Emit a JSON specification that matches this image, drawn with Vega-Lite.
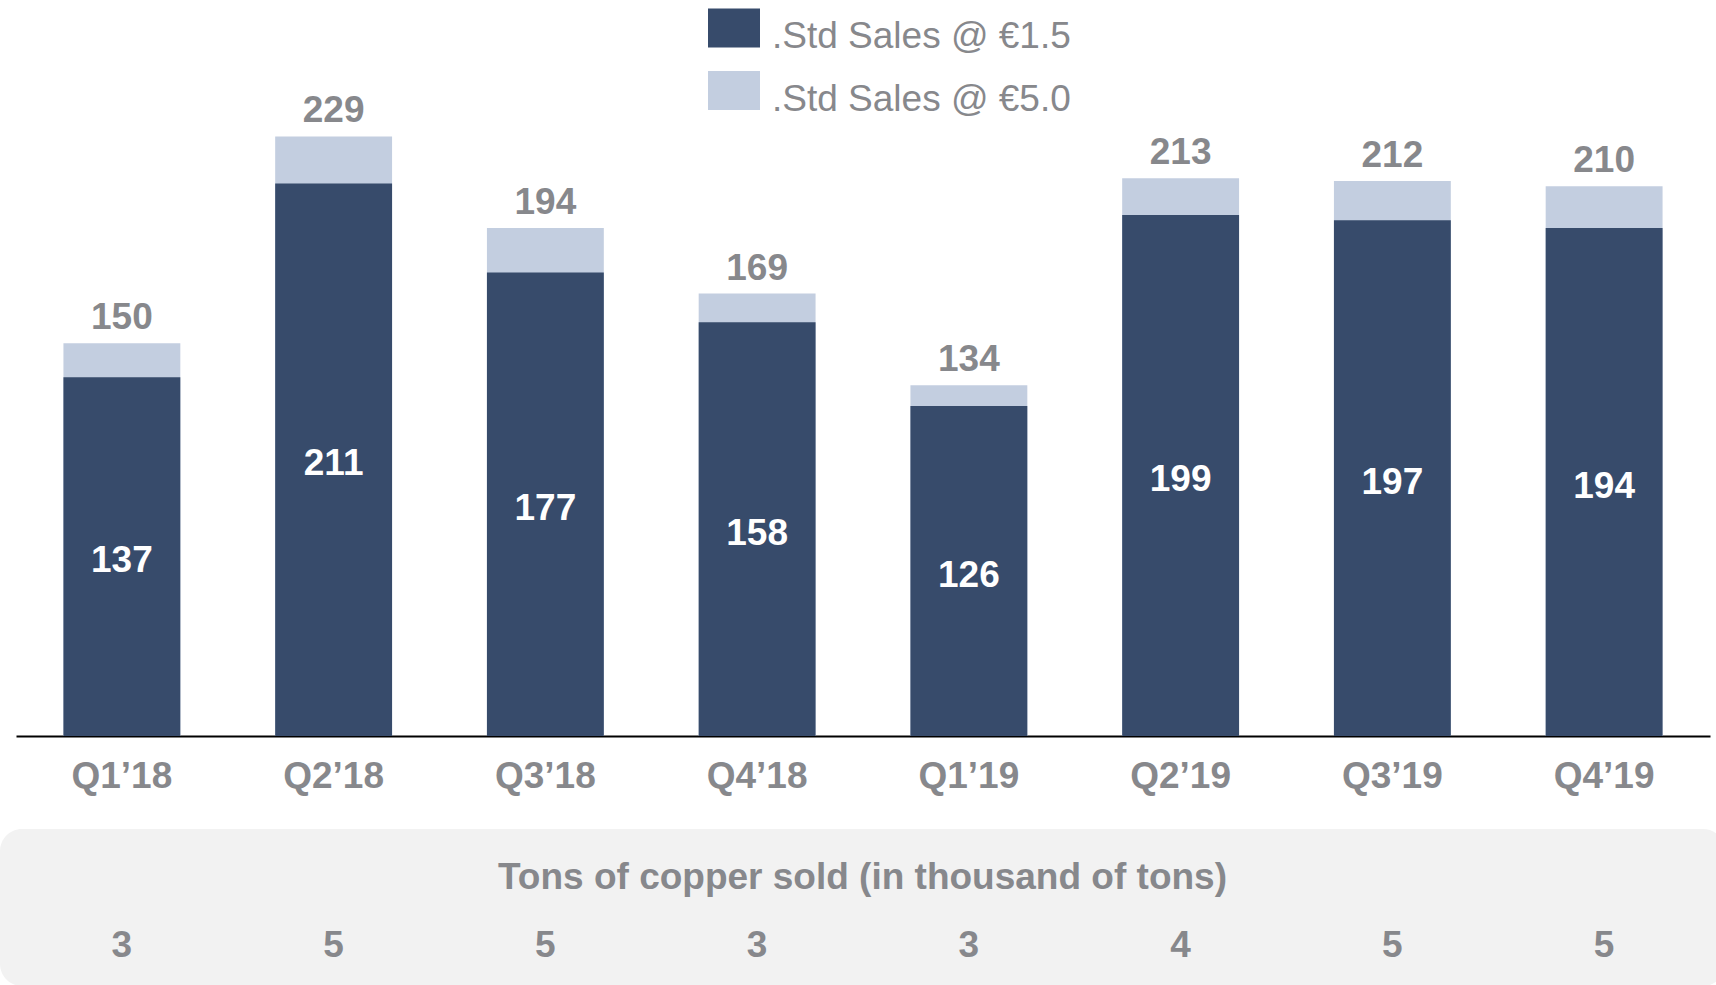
{
  "$schema": "https://vega.github.io/schema/vega-lite/v6.json",
  "padding": 0,
  "background": "white",
  "spacing": 0,
  "config": {"font": "Liberation Sans", "view": {"stroke": null}},
  "datasets": {
    "q": [
      {"quarter": "Q1’18", "total": 150, "dark": 137, "tons": 3},
      {"quarter": "Q2’18", "total": 229, "dark": 211, "tons": 5},
      {"quarter": "Q3’18", "total": 194, "dark": 177, "tons": 5},
      {"quarter": "Q4’18", "total": 169, "dark": 158, "tons": 3},
      {"quarter": "Q1’19", "total": 134, "dark": 126, "tons": 3},
      {"quarter": "Q2’19", "total": 213, "dark": 199, "tons": 4},
      {"quarter": "Q3’19", "total": 212, "dark": 197, "tons": 5},
      {"quarter": "Q4’19", "total": 210, "dark": 194, "tons": 5}
    ],
    "t": [{"label": "Tons of copper sold (in thousand of tons)"}]
  },
  "vconcat": [
    {
      "width": 1716,
      "height": 736,
      "data": {"name": "q"},
      "encoding": {
        "x": {
          "field": "quarter", "type": "nominal", "sort": null,
          "scale": {"range": [16, 1710], "paddingInner": 0.448, "paddingOuter": 0.224},
          "axis": {
            "title": null, "labelFontSize": 37, "labelFontWeight": "bold", "labelColor": "#87888C",
            "labelPadding": 22, "ticks": false, "domainColor": "#000000", "domainWidth": 2,
            "labelAngle": 0, "minExtent": 93, "maxExtent": 93, "grid": false
          }
        }
      },
      "layer": [
        {
          "mark": {"type": "bar"},
          "encoding": {
            "y": {"field": "total", "type": "quantitative", "stack": null, "scale": {"domain": [0, 281.1], "nice": false}, "axis": null},
            "color": {
              "datum": ".Std Sales @ €5.0", "type": "nominal",
              "scale": {"domain": [".Std Sales @ €1.5", ".Std Sales @ €5.0"], "range": ["#374B6B", "#C3CEE0"]},
              "legend": {
                "orient": "none", "legendX": 708, "legendY": 2, "title": null,
                "symbolType": "M-1,-0.75H1V0.75H-1Z", "symbolSize": 2704, "symbolStrokeWidth": 0, "symbolOpacity": 1,
                "labelFontSize": 37, "labelColor": "#87888C", "labelFont": "Liberation Sans", "labelOffset": 12,
                "rowPadding": 9.5, "padding": 0, "labelBaseline": "middle", "labelLimit": 0,
                "encode": {"labels": {"update": {"dy": {"value": 9}}}}
              }
            }
          }
        },
        {
          "mark": {"type": "bar"},
          "encoding": {
            "y": {"field": "dark", "type": "quantitative", "stack": null, "scale": {"domain": [0, 281.1], "nice": false}, "axis": null},
            "color": {"datum": ".Std Sales @ €1.5", "type": "nominal"}
          }
        },
        {
          "mark": {"type": "text", "fontSize": 37, "fontWeight": "bold", "color": "#87888C", "baseline": "alphabetic", "dy": -14},
          "encoding": {
            "y": {"field": "total", "type": "quantitative", "scale": {"domain": [0, 281.1], "nice": false}, "axis": null},
            "text": {"field": "total"}
          }
        },
        {
          "mark": {"type": "text", "fontSize": 37, "fontWeight": "bold", "color": "#FFFFFF", "baseline": "middle", "dy": 4.5},
          "encoding": {
            "y": {"field": "dark", "type": "quantitative", "scale": {"domain": [0, 562.2], "nice": false}, "axis": null},
            "text": {"field": "dark"}
          }
        }
      ],
      "resolve": {"scale": {"y": "independent"}}
    },
    {
      "width": 1725,
      "height": 157,
      "view": {"fill": "#F2F2F2", "stroke": null, "cornerRadius": 22},
      "layer": [
        {
          "data": {"name": "q"},
          "mark": {"type": "text", "fontSize": 37, "fontWeight": "bold", "color": "#87888C", "baseline": "middle", "dy": 38},
          "encoding": {
            "x": {
              "field": "quarter", "type": "nominal", "sort": null,
              "scale": {"range": [16, 1710], "paddingInner": 0.448, "paddingOuter": 0.224},
              "axis": null
            },
            "text": {"field": "tons"}
          }
        },
        {
          "data": {"name": "t"},
          "mark": {"type": "text", "fontSize": 37, "fontWeight": "bold", "color": "#87888C", "baseline": "middle", "dy": -30, "dx": 0},
          "encoding": {"text": {"field": "label"}}
        }
      ]
    }
  ]
}
